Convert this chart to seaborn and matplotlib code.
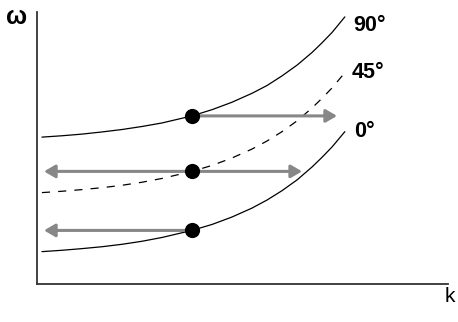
import matplotlib
matplotlib.use("Agg")
import matplotlib.pyplot as plt
import seaborn as sns
import pandas as pd

# Dispersion branches omega(k) for three propagation angles
k_vals = [0.12, 0.61, 1.09, 1.58, 2.07, 2.55, 3.04, 3.77, 4.26, 4.74,
          5.23, 5.60, 5.96, 6.33, 6.69, 6.93, 7.18, 7.49]
omega_90 = [5.40, 5.45, 5.51, 5.59, 5.68, 5.79, 5.92, 6.18, 6.41, 6.68,
            7.01, 7.30, 7.65, 8.05, 8.51, 8.86, 9.25, 9.82]
omega_45 = [3.36, 3.41, 3.47, 3.54, 3.63, 3.74, 3.88, 4.14, 4.36, 4.63,
            4.96, 5.26, 5.60, 6.00, 6.47, 6.82, 7.21, 7.77]
omega_0 = [1.19, 1.24, 1.30, 1.37, 1.46, 1.57, 1.71, 1.97, 2.19, 2.46,
           2.79, 3.09, 3.43, 3.83, 4.30, 4.65, 5.04, 5.60]
angle_labels = ["90°", "45°", "0°"]

# Marked wavenumber and the group-velocity arrows drawn from it
k_mark = 3.77
omega_mark = [6.18, 4.14, 1.97]
arrow_right_end = [7.30, 6.45, None]
arrow_left_end = [None, 0.17, 0.17]
label_pos = [(7.69, 9.49), (7.66, 7.76), (7.71, 5.62)]

sns.set_theme(style="white")
plt.rcParams["font.family"] = ["Liberation Sans", "DejaVu Sans"]

fig = plt.figure(figsize=(4.58, 3.22), dpi=100)
ax = fig.add_axes([37 / 458, 38 / 322, 411 / 458, 272 / 322])

curves = pd.DataFrame({
    "k": k_vals * 3,
    "omega": omega_90 + omega_45 + omega_0,
    "angle": [a for a in angle_labels for _ in k_vals],
})

for name, style in zip(angle_labels, ["-", "--", "-"]):
    sub = curves[curves["angle"] == name]
    sns.lineplot(data=sub, x="k", y="omega", ax=ax, sort=False,
                 estimator=None, color="black", linewidth=0.9, zorder=2)
    if style == "--":
        ax.lines[-1].set_dashes((6.5, 6.5))

arrow_color = "#878787"
for om, r_end, l_end in zip(omega_mark, arrow_right_end, arrow_left_end):
    for end in (r_end, l_end):
        if end is None:
            continue
        ax.annotate("", xy=(end, om), xytext=(k_mark, om),
                    arrowprops=dict(arrowstyle="-|>,head_length=0.55,head_width=0.32",
                                    color=arrow_color, lw=2.2,
                                    shrinkA=0, shrinkB=0),
                    zorder=3)

dots = pd.DataFrame({"k": [k_mark] * 3, "omega": omega_mark})
sns.scatterplot(data=dots, x="k", y="omega", ax=ax, s=120, color="black",
                edgecolor="black", linewidth=0, zorder=4)

for name, (lx, ly) in zip(angle_labels, label_pos):
    ax.text(lx, ly, name, fontsize=15.5, fontweight="bold", ha="left",
            va="center", color="black")

ax.set_xlim(0, 10)
ax.set_ylim(0, 10)
ax.set_xlabel("")
ax.set_ylabel("")
ax.set_xticks([])
ax.set_yticks([])
for side in ("top", "right"):
    ax.spines[side].set_visible(False)
for side in ("left", "bottom"):
    ax.spines[side].set_color("#333333")
    ax.spines[side].set_linewidth(1.3)

fig.text(17 / 458, 1 - 17 / 322, "ω", fontsize=18, fontweight="bold",
         ha="center", va="center", color="black")
fig.text(450 / 458, 1 - 296 / 322, "k", fontsize=15, ha="center",
         va="center", color="black")

fig.savefig("out.png", dpi=100, facecolor="white")
